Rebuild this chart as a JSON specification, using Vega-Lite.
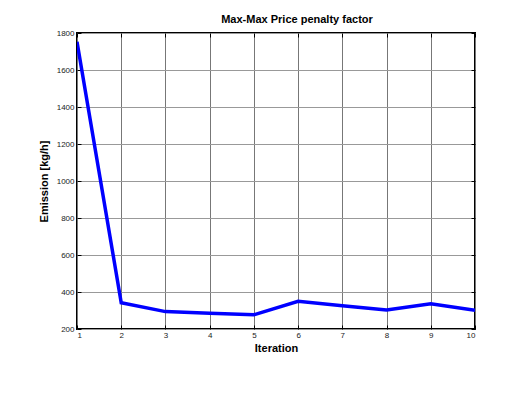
{
  "$schema": "https://vega.github.io/schema/vega-lite/v6.json",
  "autosize": "none",
  "width": 398,
  "height": 296,
  "padding": {"left": 77, "top": 33, "right": 53, "bottom": 85},
  "background": "white",
  "config": {
    "view": {"stroke": "black", "strokeWidth": 2},
    "font": "Liberation Sans",
    "axis": {"labelFont": "Liberation Sans", "titleFont": "Liberation Sans"}
  },
  "title": {
    "text": "Max-Max Price penalty factor",
    "font": "Liberation Sans",
    "fontSize": 11,
    "fontWeight": "bold",
    "color": "black",
    "offset": 4,
    "dx": 21
  },
  "data": {
    "values": [
      {"iter": 1, "emission": 1753},
      {"iter": 2, "emission": 342},
      {"iter": 3, "emission": 294},
      {"iter": 4, "emission": 285},
      {"iter": 5, "emission": 277},
      {"iter": 6, "emission": 350},
      {"iter": 7, "emission": 326},
      {"iter": 8, "emission": 303},
      {"iter": 9, "emission": 337},
      {"iter": 10, "emission": 301}
    ]
  },
  "layer": [
    {
      "mark": {"type": "line", "color": "#0000ff", "strokeWidth": 3.5, "clip": true},
      "encoding": {
        "x": {
          "field": "iter", "type": "quantitative",
          "scale": {"domain": [1, 10], "nice": false},
          "axis": {
            "title": "Iteration", "titleFontSize": 11, "titleFontWeight": "bold", "titleColor": "black", "titlePadding": 3,
            "values": [1,2,3,4,5,6,7,8,9,10], "format": "d",
            "labelFontSize": 8, "labelColor": "#222", "labelPadding": 6,
            "tickSize": -4, "tickColor": "black", "tickWidth": 1,
            "domain": false,
            "grid": true, "gridColor": "#777", "gridWidth": 1
          }
        },
        "y": {
          "field": "emission", "type": "quantitative",
          "scale": {"domain": [200, 1800], "nice": false},
          "axis": {
            "title": "Emission [kg/h]", "titleFontSize": 11, "titleFontWeight": "bold", "titleColor": "black", "titlePadding": 7,
            "values": [200,400,600,800,1000,1200,1400,1600,1800], "format": "d",
            "labelFontSize": 8, "labelColor": "#222", "labelPadding": 7,
            "tickSize": -4, "tickColor": "black", "tickWidth": 1,
            "domain": false,
            "grid": true, "gridColor": "#999", "gridWidth": 1
          }
        }
      }
    },
    {
      "mark": {"type": "line", "opacity": 0},
      "encoding": {
        "x": {
          "field": "iter", "type": "quantitative",
          "axis": {"orient": "top", "title": null, "labels": false, "values": [1,2,3,4,5,6,7,8,9,10], "tickSize": -4, "tickColor": "black", "domain": false, "grid": false}
        },
        "y": {
          "field": "emission", "type": "quantitative",
          "axis": {"orient": "right", "title": null, "labels": false, "values": [200,400,600,800,1000,1200,1400,1600,1800], "tickSize": -4, "tickColor": "black", "domain": false, "grid": false}
        }
      }
    }
  ],
  "resolve": {"axis": {"x": "independent", "y": "independent"}}
}
